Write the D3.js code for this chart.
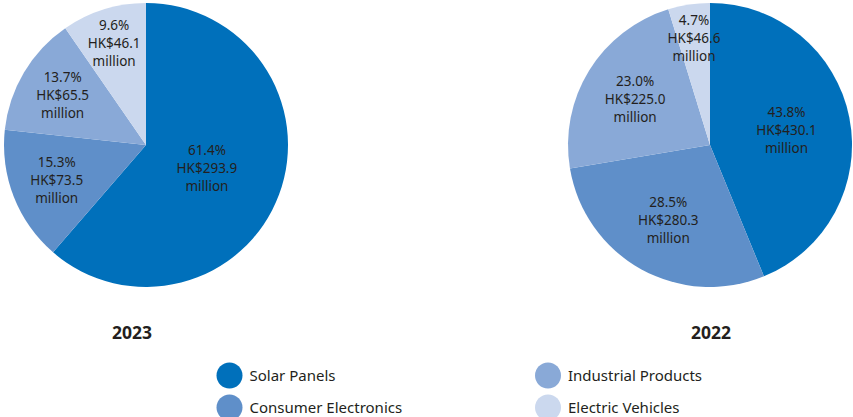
<!DOCTYPE html>
<html>
<head>
<meta charset="utf-8">
<script src="https://cdn.jsdelivr.net/npm/d3@7"></script>
<style>
  body { margin: 0; background: #fff; }
  text { font-family: "Noto Sans", "Open Sans", sans-serif; fill: #231f20; }
</style>
</head>
<body>
<script>
// segments, in drawing order (clockwise from 12 o'clock)
const categories = ["Solar Panels", "Consumer Electronics", "Industrial Products", "Electric Vehicles"]
const values2023 = [293.9, 73.5, 65.5, 46.1]
const percents2023 = ["61.4%", "15.3%", "13.7%", "9.6%"]
const values2022 = [430.1, 280.3, 225.0, 46.6]
const percents2022 = ["43.8%", "28.5%", "23.0%", "4.7%"]
const years = ["2023", "2022"]

const colors = ["#0070bb", "#5f8fc9", "#89a9d7", "#cbd8ee"]

const W = 853, H = 417, R = 142

const svg = d3.select("body").append("svg")
    .attr("width", W)
    .attr("height", H)

const color = d3.scaleOrdinal().domain(categories).range(colors)

const pie = d3.pie().sort(null).value(d => d.value)
const arc = d3.arc().innerRadius(0).outerRadius(R)

// hand tuned label radii, one per slice
const charts = [
    { year: years[0], values: values2023, pct: percents2023, cx: 146, titleX: 132, labelR: [65, 96, 97, 107] },
    { year: years[1], values: values2022, pct: percents2022, cx: 710, titleX: 711, labelR: [78, 86, 88, 108] }
]

charts.forEach(c => {
    const data = categories.map((k, i) => ({ key: k, value: c.values[i], pct: c.pct[i] }))
    const g = svg.append("g").attr("transform", `translate(${c.cx},145)`)
    const arcs = pie(data)

    g.selectAll("path")
        .data(arcs)
        .enter().append("path")
        .attr("d", arc)
        .attr("fill", d => color(d.data.key))

    const lbl = g.selectAll("text.lbl")
        .data(arcs)
        .enter().append("text")
        .attr("class", "lbl")
        .attr("text-anchor", "middle")
        .attr("font-size", 13.5)
        .attr("transform", (d, i) => {
            const p = d3.arc().innerRadius(c.labelR[i]).outerRadius(c.labelR[i]).centroid(d)
            return `translate(${p[0]},${p[1]})`
        })
    lbl.append("tspan").attr("x", 0).attr("y", -13).text(d => d.data.pct)
    lbl.append("tspan").attr("x", 0).attr("y", 5).text(d => "HK$" + d.data.value.toFixed(1))
    lbl.append("tspan").attr("x", 0).attr("y", 23).text("million")

    svg.append("text")
        .attr("x", c.titleX)
        .attr("y", 339)
        .attr("text-anchor", "middle")
        .attr("font-size", 17.5)
        .attr("font-weight", "bold")
        .text(c.year)
})

// legend, two columns
const legend = svg.selectAll("g.legend")
    .data(categories)
    .enter().append("g")
    .attr("class", "legend")
    .attr("transform", (d, i) => `translate(${i < 2 ? 229.5 : 548},${375.5 + (i % 2) * 32})`)

legend.append("circle")
    .attr("r", 13)
    .attr("fill", d => color(d))

legend.append("text")
    .attr("x", 20)
    .attr("y", 5.5)
    .attr("font-size", 15)
    .text(d => d)
</script>
</body>
</html>
